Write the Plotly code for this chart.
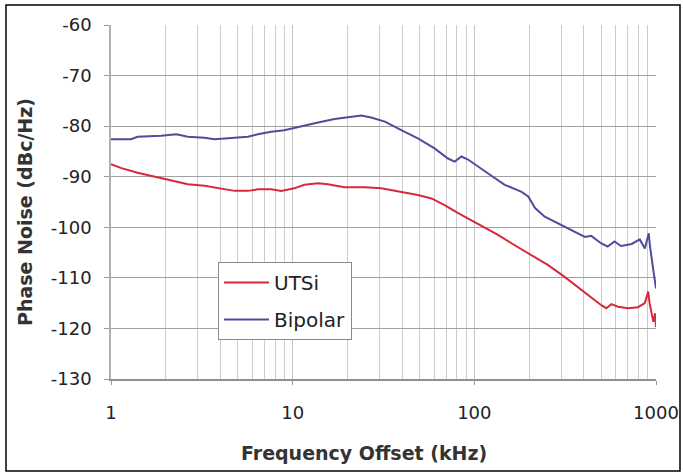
import plotly.graph_objects as go

# ---- data ----
bipolar_freq = [1.0, 1.14, 1.29, 1.40, 1.89, 2.29, 2.65, 3.27, 3.71, 4.05, 4.99, 5.67, 6.43, 7.62,
                8.99, 10.0, 11.1, 13.8, 17.0, 21.0, 23.9, 27.0, 32.2, 39.6, 48.9, 60.4, 71.6, 78.0,
                84.9, 92.3, 100, 123, 147, 182, 198, 216, 244, 289, 343, 406, 440, 500, 542, 591,
                642, 735, 814, 868, 912, 927, 967, 1000]
bipolar_pn = [-82.6, -82.6, -82.6, -82.1, -81.9, -81.6, -82.1, -82.3, -82.6, -82.5, -82.3, -82.1,
              -81.6, -81.1, -80.8, -80.4, -80.1, -79.3, -78.6, -78.1, -77.9, -78.3, -79.1, -80.8,
              -82.4, -84.4, -86.4, -87.0, -86.0, -86.6, -87.5, -89.7, -91.6, -93.0, -93.9, -96.2,
              -97.9, -99.2, -100.5, -101.9, -101.7, -103.2, -103.8, -102.8, -103.7, -103.3,
              -102.4, -104.2, -101.2, -103.8, -108.5, -112.1]

utsi_freq = [1.0, 1.14, 1.40, 1.74, 2.15, 2.65, 3.27, 4.05, 4.79, 5.67, 6.43, 7.62, 8.66, 10.2,
             11.6, 13.8, 15.6, 19.3, 24.9, 30.7, 39.6, 48.9, 58.1, 68.6, 81.5, 100, 109, 135, 166,
             206, 255, 314, 387, 440, 500, 533, 568, 617, 702, 796, 868, 906, 922, 967, 989, 1000]
utsi_pn = [-87.5, -88.3, -89.2, -90.0, -90.8, -91.5, -91.8, -92.3, -92.8, -92.8, -92.5, -92.5,
           -92.8, -92.3, -91.6, -91.3, -91.5, -92.1, -92.1, -92.3, -93.0, -93.6, -94.3, -95.6,
           -97.2, -99.0, -99.6, -101.5, -103.5, -105.5, -107.5, -109.8, -112.4, -114.0, -115.4,
           -116.0, -115.2, -115.7, -116.0, -115.8, -115.0, -112.7, -115.0, -118.7, -117.0, -119.7]

x_ticks = [1, 10, 100, 1000]
x_ticklabels = ["1", "10", "100", "1000"]
x_minor = [2, 3, 4, 5, 6, 7, 8, 9, 20, 30, 40, 50, 60, 70, 80, 90,
           200, 300, 400, 500, 600, 700, 800, 900]
y_ticks = [-60, -70, -80, -90, -100, -110, -120, -130]
y_ticklabels = ["-60", "-70", "-80", "-90", "-100", "-110", "-120", "-130"]

FONT = "DejaVu Sans"
RED = "#d8293b"
BLUE = "#4d4d9c"

fig = go.Figure()
fig.add_trace(go.Scatter(x=utsi_freq, y=utsi_pn, mode="lines", name="UTSi",
                         line=dict(color=RED, width=2), legendgroup="a"))
fig.add_trace(go.Scatter(x=bipolar_freq, y=bipolar_pn, mode="lines", name="Bipolar",
                         line=dict(color=BLUE, width=2), legendgroup="b"))

W, H = 683, 475
L, R, T, B = 111, 27, 25, 96
pw, ph = W - L - R, H - T - B

def px(xp):
    return (xp - L) / pw

def py(yp):
    return (H - B - yp) / ph

fig.update_layout(
    width=W, height=H,
    margin=dict(l=L, r=R, t=T, b=B, autoexpand=False),
    paper_bgcolor="white", plot_bgcolor="white",
    font=dict(family=FONT, size=18, color="#222222"),
    showlegend=True,
    legend=dict(x=px(218), y=py(262), xanchor="left", yanchor="top",
                bgcolor="white", bordercolor="#8a8a8a", borderwidth=1,
                font=dict(family=FONT, size=20, color="#222222"),
                tracegroupgap=8, traceorder="grouped", itemwidth=45),
    xaxis=dict(type="log", range=[0, 3], tickvals=x_ticks, ticktext=x_ticklabels,
               automargin=False,
               showgrid=True, gridcolor="#c4c4c4", gridwidth=1,
               minor=dict(tickvals=x_minor, showgrid=True, gridcolor="#cccccc",
                          gridwidth=1, ticks=""),
               ticks="outside", ticklen=4, tickcolor="#999999",
               showline=True, linecolor="#909090", linewidth=1.5,
               zeroline=False, ticklabelstandoff=13),
    yaxis=dict(range=[-130, -60], tickvals=y_ticks, ticktext=y_ticklabels,
               automargin=False,
               showgrid=True, gridcolor="#a0a0a0", gridwidth=1,
               ticks="outside", ticklen=5, tickcolor="#999999",
               showline=True, linecolor="#b0b0b0", linewidth=1.5,
               zeroline=False, ticklabelstandoff=9),
    annotations=[
        dict(text="<b>Phase Noise (dBc/Hz)</b>", xref="paper", yref="paper",
             x=px(25), y=py(212), xanchor="center", yanchor="middle", textangle=-90,
             showarrow=False, font=dict(family=FONT, size=19, color="#333333")),
        dict(text="<b>Frequency Offset (kHz)</b>", xref="paper", yref="paper",
             x=px(364), y=py(453), xanchor="center", yanchor="middle",
             showarrow=False, font=dict(family=FONT, size=19, color="#333333")),
    ],
    shapes=[
        dict(type="rect", xref="paper", yref="paper",
             x0=px(6), x1=px(680), y0=py(471), y1=py(5),
             line=dict(color="black", width=1.5), layer="below"),
    ],
)

fig.write_html("out.html", config={"displayModeBar": False},
               post_script="document.body.style.margin='0';")
